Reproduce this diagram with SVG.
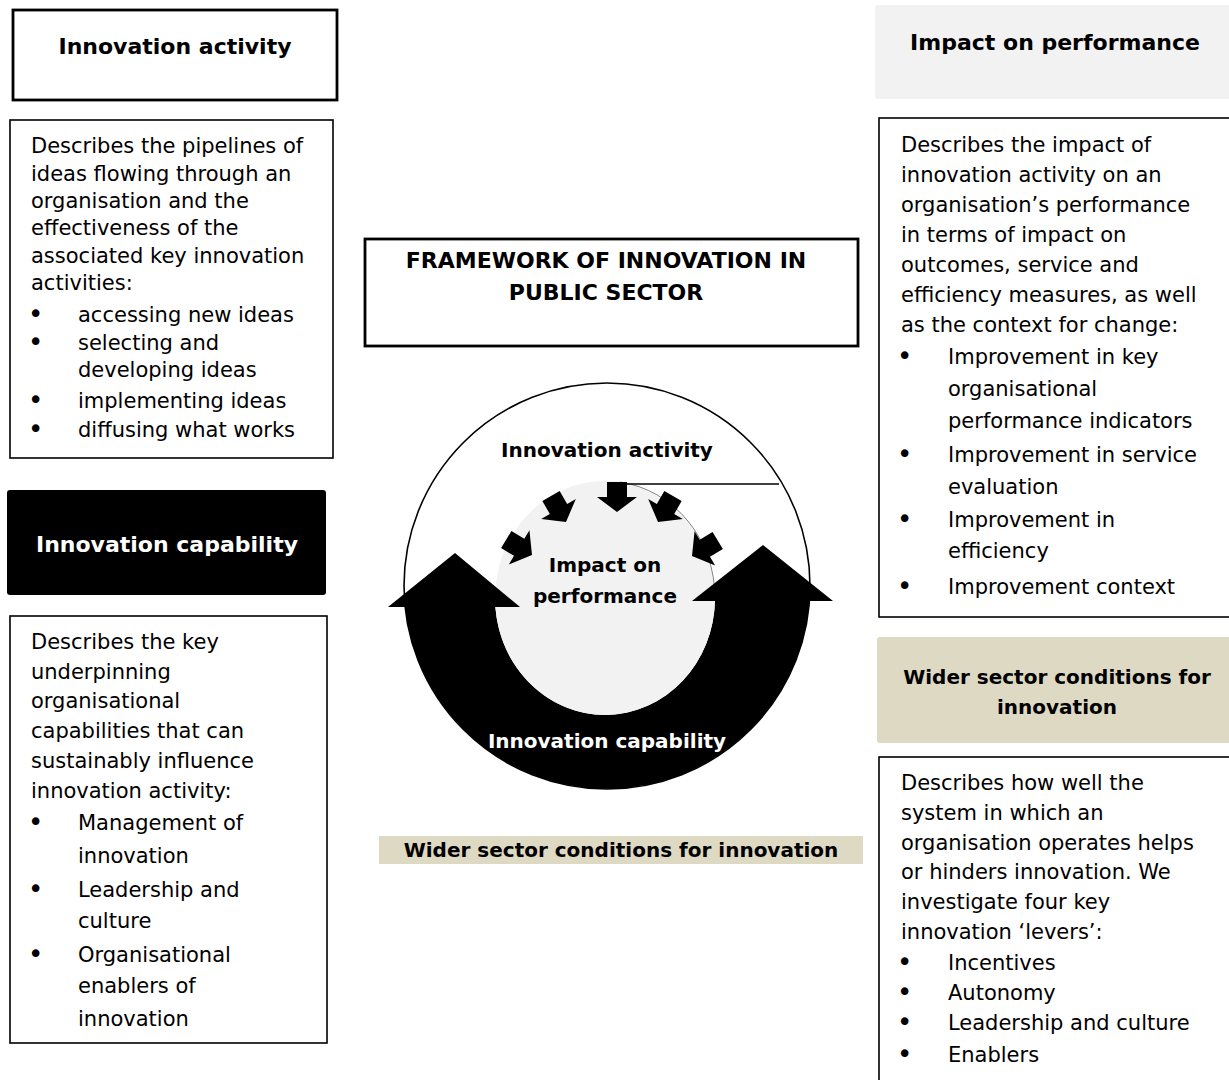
<svg xmlns="http://www.w3.org/2000/svg" width="1229" height="1080" viewBox="0 0 1229 1080">
<defs>
<style>
.t{font-family:"DejaVu Sans",Verdana,sans-serif;font-size:21px;fill:#000}
.h{font-family:"DejaVu Sans",Verdana,sans-serif;font-weight:bold;fill:#000;text-anchor:middle}
.b{font-family:"DejaVu Sans",sans-serif;font-size:26px;fill:#000}
.box{fill:#fff;stroke:#000;stroke-width:1.6}
.tbox{fill:#fff;stroke:#000;stroke-width:2.8}
</style>
<polygon id="sa" points="-10,-30 10,-30 10,-15 20,-15 0,0 -20,-15 -10,-15" fill="#000"/>
</defs>
<rect width="1229" height="1080" fill="#fff"/>

<g id="ia-title">
<rect class="tbox" x="13" y="10" width="324" height="90"/>
<text class="h" x="175" y="54" font-size="22">Innovation activity</text>
</g>

<g id="ia-desc">
<rect class="box" x="10" y="120" width="323" height="338"/>
<text class="t" x="31" y="153">Describes the pipelines of</text>
<text class="t" x="31" y="181">ideas flowing through an</text>
<text class="t" x="31" y="208">organisation and the</text>
<text class="t" x="31" y="235">effectiveness of the</text>
<text class="t" x="31" y="263">associated key innovation</text>
<text class="t" x="31" y="290">activities:</text>
<text class="b" x="28" y="323">•</text><text class="t" x="78" y="322">accessing new ideas</text>
<text class="b" x="28" y="351">•</text><text class="t" x="78" y="350">selecting and</text>
<text class="t" x="78" y="377">developing ideas</text>
<text class="b" x="28" y="409">•</text><text class="t" x="78" y="408">implementing ideas</text>
<text class="b" x="28" y="438">•</text><text class="t" x="78" y="437">diffusing what works</text>
</g>

<g id="ic-title">
<rect x="7" y="490" width="319" height="105" rx="3" fill="#000"/>
<text class="h" x="167" y="552" font-size="22" style="fill:#fff">Innovation capability</text>
</g>

<g id="ic-desc">
<rect class="box" x="10" y="616" width="317" height="427"/>
<text class="t" x="31" y="649">Describes the key</text>
<text class="t" x="31" y="679">underpinning</text>
<text class="t" x="31" y="708">organisational</text>
<text class="t" x="31" y="738">capabilities that can</text>
<text class="t" x="31" y="768">sustainably influence</text>
<text class="t" x="31" y="798">innovation activity:</text>
<text class="b" x="28" y="831">•</text><text class="t" x="78" y="830">Management of</text>
<text class="t" x="78" y="863">innovation</text>
<text class="b" x="28" y="898">•</text><text class="t" x="78" y="897">Leadership and</text>
<text class="t" x="78" y="928">culture</text>
<text class="b" x="28" y="963">•</text><text class="t" x="78" y="962">Organisational</text>
<text class="t" x="78" y="993">enablers of</text>
<text class="t" x="78" y="1026">innovation</text>
</g>

<g id="ip-title">
<rect x="875" y="5" width="360" height="94" rx="3" fill="#f2f2f2"/>
<text class="h" x="1055" y="50" font-size="22">Impact on performance</text>
</g>

<g id="ip-desc">
<rect class="box" x="879" y="118" width="360" height="499"/>
<text class="t" x="901" y="152">Describes the impact of</text>
<text class="t" x="901" y="182">innovation activity on an</text>
<text class="t" x="901" y="212">organisation’s performance</text>
<text class="t" x="901" y="242">in terms of impact on</text>
<text class="t" x="901" y="272">outcomes, service and</text>
<text class="t" x="901" y="302">efficiency measures, as well</text>
<text class="t" x="901" y="332">as the context for change:</text>
<text class="b" x="897" y="365">•</text><text class="t" x="948" y="364">Improvement in key</text>
<text class="t" x="948" y="396">organisational</text>
<text class="t" x="948" y="428">performance indicators</text>
<text class="b" x="897" y="463">•</text><text class="t" x="948" y="462">Improvement in service</text>
<text class="t" x="948" y="494">evaluation</text>
<text class="b" x="897" y="528">•</text><text class="t" x="948" y="527">Improvement in</text>
<text class="t" x="948" y="558">efficiency</text>
<text class="b" x="897" y="595">•</text><text class="t" x="948" y="594">Improvement context</text>
</g>

<g id="ws-title">
<rect x="877" y="637" width="360" height="106" rx="3" fill="#ddd9c3"/>
<text class="h" x="1057" y="684" font-size="20">Wider sector conditions for</text>
<text class="h" x="1057" y="714" font-size="20">innovation</text>
</g>

<g id="ws-desc">
<rect class="box" x="879" y="757" width="360" height="340"/>
<text class="t" x="901" y="790">Describes how well the</text>
<text class="t" x="901" y="820">system in which an</text>
<text class="t" x="901" y="850">organisation operates helps</text>
<text class="t" x="901" y="879">or hinders innovation. We</text>
<text class="t" x="901" y="909">investigate four key</text>
<text class="t" x="901" y="939">innovation ‘levers’:</text>
<text class="b" x="897" y="971">•</text><text class="t" x="948" y="970">Incentives</text>
<text class="b" x="897" y="1001">•</text><text class="t" x="948" y="1000">Autonomy</text>
<text class="b" x="897" y="1031">•</text><text class="t" x="948" y="1030">Leadership and culture</text>
<text class="b" x="897" y="1063">•</text><text class="t" x="948" y="1062">Enablers</text>
</g>

<g id="framework">
<rect class="tbox" x="365" y="239" width="493" height="107" stroke-width="3.5"/>
<text class="h" x="606" y="268" font-size="22">FRAMEWORK OF INNOVATION IN</text>
<text class="h" x="606" y="300" font-size="22">PUBLIC SECTOR</text>
</g>

<g id="cycle">
<circle cx="607" cy="586" r="203" fill="#fff" stroke="#000" stroke-width="1.6"/>
<path d="M405,606 A203,203 0 0 0 809.4,601 L715,601 A110,117 0 0 1 495.3,606 Z" fill="#000"/>
<ellipse cx="605" cy="598" rx="110" ry="117" fill="#f2f2f2"/>
<path d="M620,482 A110,117 0 0 1 715,598" fill="none" stroke="#777" stroke-width="0.9"/>
<polygon points="388,607 455,553 520,607" fill="#000"/>
<polygon points="692,601 763,545 833,601" fill="#000"/>
<text class="h" x="607" y="457" font-size="20">Innovation activity</text>
<text class="h" x="605" y="572" font-size="20">Impact on</text>
<text class="h" x="605" y="603" font-size="20">performance</text>
<text class="h" x="607" y="748" font-size="20" style="fill:#fff">Innovation capability</text>
</g>

<g id="connectors">
<line x1="627" y1="484" x2="779" y2="484" stroke="#000" stroke-width="1.6"/>
<use href="#sa" transform="translate(617,512)"/>
<use href="#sa" transform="translate(566,522) rotate(-30)"/>
<use href="#sa" transform="translate(532,555) rotate(-59)"/>
<use href="#sa" transform="translate(658,522) rotate(30)"/>
<use href="#sa" transform="translate(692,556) rotate(59)"/>
</g>

<g id="ws-band">
<rect x="379" y="836" width="484" height="28" fill="#ddd9c3"/>
<text class="h" x="621" y="857" font-size="20">Wider sector conditions for innovation</text>
</g>
</svg>
